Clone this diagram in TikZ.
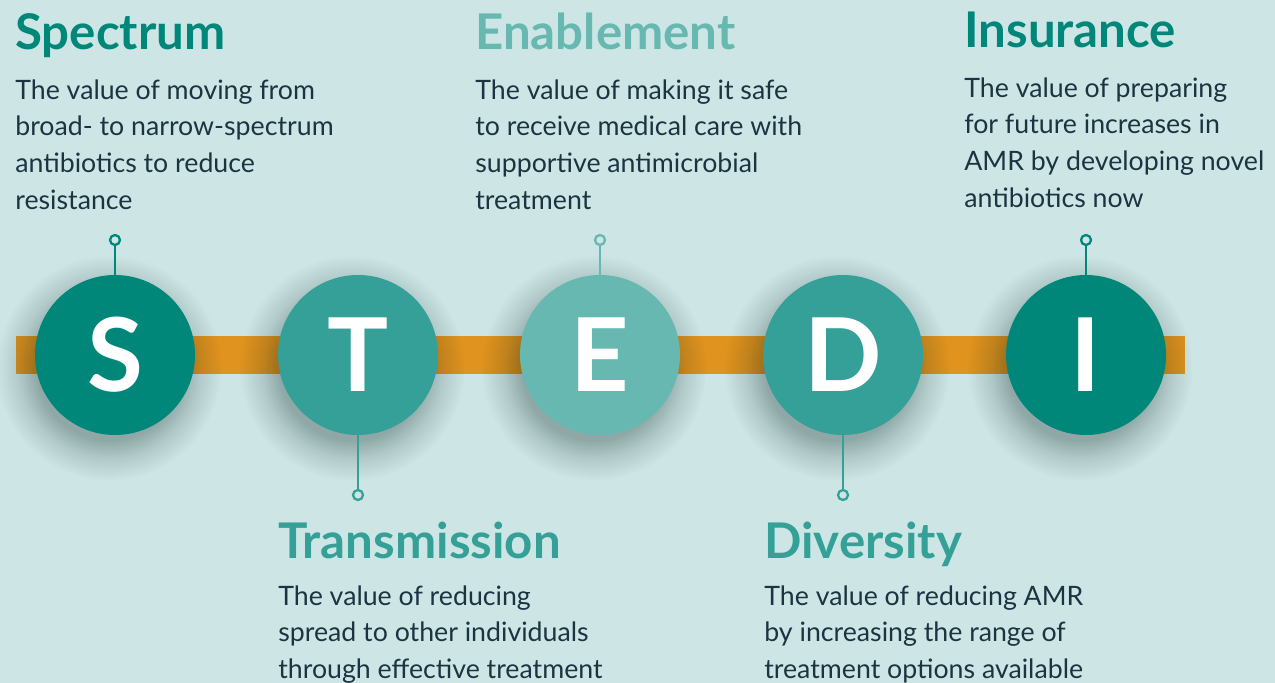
\documentclass[tikz,border=0pt]{standalone}
\usepackage{fontspec}
\setmainfont{Lato}
\usetikzlibrary{fadings}

\definecolor{bgteal}{HTML}{CDE6E5}
\definecolor{darkteal}{HTML}{00877A}
\definecolor{midteal}{HTML}{35A097}
\definecolor{lightteal}{HTML}{66B8B0}
\definecolor{barorange}{HTML}{E0931E}
\definecolor{bodyink}{HTML}{1C3442}

% radial fade for the shadows: solid in the middle, gone at the rim (25bp)
\pgfdeclareradialshading{shadowshade}{\pgfpointorigin}{%
  color(0bp)=(pgftransparent!0); color(16bp)=(pgftransparent!0);
  color(20bp)=(pgftransparent!55); color(25bp)=(pgftransparent!100);
  color(50bp)=(pgftransparent!100)}
\pgfdeclarefading{shadowfade}{\pgfuseshading{shadowshade}}

\tikzset{
  letter/.style={circle, minimum size=3.2cm, inner sep=0pt, text=white,
    font=\fontsize{58}{58}\selectfont\bfseries},
  softshadow/.style={black!80!darkteal, opacity=0.3, path fading=shadowfade},
  pin/.style={circle, draw, fill=bgteal, minimum size=0.2cm, inner sep=0pt, line width=1.3pt},
  stem/.style={line width=1.3pt},
  heading/.style={anchor=base west, inner sep=0pt, font=\fontsize{28}{28}\selectfont\bfseries},
  blurb/.style={anchor=north west, inner sep=0pt, align=left, text=bodyink,
    font=\fontsize{15.2}{21}\selectfont},
}

\begin{document}
\begin{tikzpicture}
    \fill[bgteal] (0,0) rectangle (25.5,-13.66);
    \useasboundingbox (0,0) rectangle (25.5,-13.66);

    % the bar behind the letters
    \fill[barorange] (0.32,-6.72) rectangle (23.70,-7.47);

    % soft shadows under the circles
    \foreach \x in {2.30,7.16,12.00,16.86,21.72}
        \fill[softshadow] (\x-0.12,-7.36) circle (2.25cm);

    \node[letter, fill=darkteal]  (S) at (2.30,-7.10)  {S};
    \node[letter, fill=midteal]   (T) at (7.16,-7.10)  {T};
    \node[letter, fill=lightteal] (E) at (12.00,-7.10) {E};
    \node[letter, fill=midteal]   (D) at (16.86,-7.10) {D};
    \node[letter, fill=darkteal]  (I) at (21.72,-7.10) {I};

    % pins above and below
    \node[pin, draw=darkteal]  (S-pin) at (2.30,-4.80)  {};
    \node[pin, draw=midteal]   (T-pin) at (7.16,-9.90)  {};
    \node[pin, draw=lightteal] (E-pin) at (12.00,-4.80) {};
    \node[pin, draw=midteal]   (D-pin) at (16.86,-9.90) {};
    \node[pin, draw=darkteal]  (I-pin) at (21.72,-4.80) {};

    \draw[stem, darkteal]  (S) -- (S-pin);
    \draw[stem, midteal]   (T) -- (T-pin);
    \draw[stem, lightteal] (E) -- (E-pin);
    \draw[stem, midteal]   (D) -- (D-pin);
    \draw[stem, darkteal]  (I) -- (I-pin);

    % headings and descriptions
    \node[heading, text=darkteal] (S-head) at (0.30,-1.00) {Spectrum};
    \node[blurb] (S-text) at (0.30,-1.58) {The value of moving from\\broad- to narrow-spectrum\\antibiotics to reduce\\resistance};

    \node[heading, text=lightteal] (E-head) at (9.50,-1.00) {Enablement};
    \node[blurb] (E-text) at (9.50,-1.58) {The value of making it safe\\to receive medical care with\\supportive antimicrobial\\treatment};

    \node[heading, text=darkteal] (I-head) at (19.28,-0.96) {Insurance};
    \node[blurb] (I-text) at (19.28,-1.54) {The value of preparing\\for future increases in\\AMR by developing novel\\antibiotics now};

    \node[heading, text=midteal] (T-head) at (5.56,-11.16) {Transmission};
    \node[blurb] (T-text) at (5.56,-11.70) {The value of reducing\\spread to other individuals\\through effective treatment};

    \node[heading, text=midteal] (D-head) at (15.28,-11.16) {Diversity};
    \node[blurb] (D-text) at (15.28,-11.70) {The value of reducing AMR\\by increasing the range of\\treatment options available};
\end{tikzpicture}
\end{document}
